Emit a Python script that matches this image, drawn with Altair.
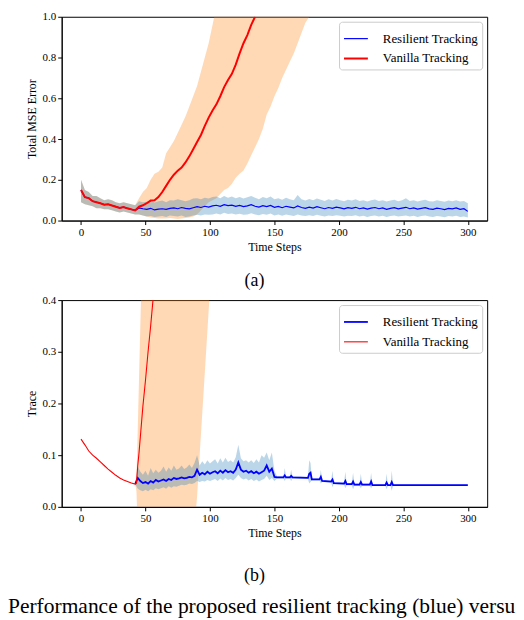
import pandas as pd
import altair as alt

series = ["Resilient Tracking", "Vanilla Tracking"]
x_ticks = [0, 50, 100, 150, 200, 250, 300]
caption = "Performance of the proposed resilient tracking (blue) versu"

# ---- panel (a): total MSE error ----
t_a = list(range(0, 301, 3))
res_a = [0.15, 0.115, 0.11, 0.095, 0.09, 0.085, 0.078, 0.08, 0.074, 0.068, 0.062, 0.066, 0.06, 0.055, 0.05,
         .062, .058, .055, .06, .052, .056, .058, .055, .06, .062,
         .058, .064, .06, .057, .063, .068, .064, .07, .066, .072,
         .075, .07, .078, .073, .076, .07, .074, .068, .072, .078,
         .07, .066, .073, .068, .074, .065, .069, .063, .07, .066,
         .062, .072, .064, .06, .066, .061, .068, .063, .058, .064,
         .06, .066, .062, .057, .063, .06, .065, .058, .062, .056,
         .061, .064, .058, .062, .055, .06, .063, .057, .061, .065,
         .058, .062, .056, .06, .063, .057, .055, .061, .058, .054,
         .06, .057, .062, .055, .058, .045]
res_a_lo = [.09, .08, .075, .07, .06, .06, .055, .055, .05, .045, .04, .045, .04, .035, .03,
            .03, .025, .02, .022, .018, .02, .022, .018, .025, .022,
            .02, .025, .018, .02, .025, .028, .025, .03, .028, .03,
            .035, .03, .038, .032, .035, .03, .033, .028, .03, .036,
            .03, .026, .032, .028, .034, .025, .03, .024, .03, .026,
            .022, .03, .025, .022, .026, .022, .028, .024, .02, .025,
            .022, .026, .023, .02, .024, .022, .026, .02, .024, .018,
            .022, .025, .02, .024, .018, .022, .025, .02, .022, .025,
            .02, .024, .018, .022, .025, .02, .018, .022, .02, .016,
            .022, .02, .024, .018, .02, .015]
res_a_hi = [.2, .15, .14, .12, .12, .11, .1, .105, .1, .09, .085, .09, .085, .08, .075,
            .095, .09, .092, .1, .088, .095, .098, .09, .1, .098,
            .105, .1, .095, .1, .108, .11, .104, .112, .108, .115,
            .118, .11, .12, .112, .118, .11, .116, .108, .114, .12,
            .112, .105, .115, .11, .118, .105, .11, .102, .112, .105,
            .1, .125, .104, .098, .106, .1, .108, .102, .096, .104,
            .098, .106, .1, .095, .102, .098, .104, .096, .1, .094,
            .1, .103, .096, .1, .093, .098, .102, .095, .1, .11,
            .096, .1, .094, .098, .102, .095, .093, .1, .096, .092,
            .098, .095, .1, .093, .096, .085]

t_van_a = list(range(0, 136, 3))
van_a = [0.15, 0.115, 0.11, 0.095, 0.09, 0.085, 0.078, 0.08, 0.074, 0.068, 0.062, 0.066, 0.06, 0.055, 0.05,
         0.068, 0.075, 0.085, 0.098, 0.1, 0.115, 0.14, 0.17, 0.2, 0.225, 0.245, 0.26, 0.285, 0.315, 0.35,
         0.385, 0.42, 0.465, 0.505, 0.54, 0.57, 0.61, 0.655, 0.69, 0.72, 0.765, 0.82, 0.87, 0.91, 0.96, 1.0]
t_van_band_a = list(range(0, 181, 3))
van_a_lo = [.09, .08, .075, .07, .06, .06, .055, .055, .05, .045, .04, .045, .04, .035, .03,
            .03, .025, .02, .015, .012, .01, .01, .01, .012, .01,
            .008, .01, .012, .015, .02, .03, .05, .07, .09, .1,
            .11, .13, .15, .16, .18, .21, .23, .245, .28, .32,
            .36, .4, .45, .52, .56, .61, .65, .7, .74, .78,
            .82, .87, .92, .97, 1.0, 1.05]
van_a_hi = [.2, .15, .14, .12, .12, .11, .1, .105, .1, .09, .085, .09, .085, .08, .075,
            .11, .14, .16, .2, .23, .24, .26, .33, .36, .39,
            .43, .47, .51, .56, .61, .66, .73, .8, .87, .96,
            1.05, 1.1, 1.15, 1.2, 1.25, 1.3, 1.35, 1.4, 1.45, 1.5,
            1.55, 1.6, 1.65, 1.7, 1.75, 1.8, 1.85, 1.9, 1.95, 2.0,
            2.05, 2.1, 2.15, 2.2, 2.25, 2.3]

# ---- panel (b): trace ----
t_van_b = [0, 3, 6, 9, 12, 15, 18, 21, 24, 27, 30, 33, 36, 39, 42, 43, 44, 45, 46, 47, 48, 50, 52, 54, 56, 58]
van_b = [.131, .12, .108, .1, .094, .087, .08, .073, .067, .061, .056, .052, .049, .046, .044,
         .046, .08, .105, .135, .165, .195, .245, .3, .35, .405, .45]
t_van_band_b = [42, 43, 44, 45, 46, 47, 50, 60, 70, 80, 86, 89, 90, 92, 94, 96, 98, 100, 102]
van_b_lo = [.044, .03, -.05, -.1, -.15, -.2, -.3, -.35, -.3, -.2, -.08, -.01, .02, .1, .18, .26, .34, .42, .5]
van_b_hi = [.044, .06, .15, .25, .35, .45, .6, .8, 1.0, 1.2, 1.3, 1.4, 1.4, 1.5, 1.5, 1.6, 1.6, 1.7, 1.8]

t_res_b = list(range(42, 151, 2)) + [152, 157, 158, 159, 162, 163, 164, 176, 177, 178, 179, 185, 186, 187,
                                     194, 195, 196, 204, 205, 206, 210, 211, 212, 216, 217, 218, 224, 225,
                                     226, 236, 237, 238, 240, 241, 242, 300]
res_b = [.044, .056, .05, .046, .048, .045, .05, .047, .052, .049,
         .051, .053, .05, .054, .052, .056, .054, .055, .057, .055,
         .056, .058, .057, .06, .072, .062, .066, .063, .068, .064,
         .067, .069, .065, .07, .066, .071, .067, .069, .066, .072,
         .086, .072, .068, .07, .066, .069, .065, .068, .064, .067,
         .07, .08, .068, .074, .058,
         .057, .057, .061, .057, .057, .06, .057, .056, .064, .066, .053, .053, .058, .05,
         .049, .053, .046, .045, .05, .044, .044, .049, .043, .043, .048, .043, .043, .049,
         .042, .042, .047, .042, .042, .048, .042, .042]
res_b_lo = [.044, .035, .032, .03, .033, .03, .034, .032, .036, .034,
            .036, .038, .035, .04, .037, .04, .039, .041, .043, .042,
            .043, .045, .044, .046, .05, .048, .05, .049, .052, .05,
            .052, .054, .05, .055, .051, .056, .052, .054, .051, .056,
            .062, .056, .053, .055, .051, .054, .05, .053, .049, .052,
            .054, .06, .052, .056, .05,
            .055, .055, .05, .055, .055, .05, .055, .054, .045, .048, .051, .051, .045, .048,
            .047, .038, .044, .043, .036, .042, .042, .034, .041, .041, .036, .041, .041, .036,
            .041, .041, .034, .041, .041, .031, .041, .041]
res_b_hi = [.044, .078, .068, .062, .07, .06, .075, .065, .072, .066,
            .07, .078, .068, .076, .07, .08, .072, .074, .08, .073,
            .076, .082, .075, .085, .1, .08, .088, .082, .09, .084,
            .088, .092, .084, .094, .086, .095, .087, .09, .086, .096,
            .12, .094, .088, .09, .086, .09, .085, .092, .086, .1,
            .095, .105, .09, .105, .07,
            .059, .059, .075, .059, .059, .072, .059, .058, .09, .085, .055, .055, .072, .052,
            .051, .07, .048, .047, .068, .046, .046, .066, .045, .045, .064, .045, .045, .066,
            .043, .043, .064, .043, .043, .07, .043, .043]


def line_frame(t, v, name):
    return pd.DataFrame([{"t": a, "v": b, "series": name} for a, b in zip(t, v)])


def band_frame(t, lo, hi):
    return pd.DataFrame([{"t": a, "lo": b, "hi": c} for a, b, c in zip(t, lo, hi)])


x_enc = alt.X("t:Q", scale=alt.Scale(domain=[-15, 315], nice=False, zero=False),
              axis=alt.Axis(values=x_ticks, format="d", title="Time Steps"))


def panel(res_line, van_line, res_band, van_band, y_dom, y_ticks, y_title, widths, tag, tag_offset, h):
    def y(f):
        return alt.Y(f"{f}:Q", scale=alt.Scale(domain=y_dom, nice=False, zero=False),
                     axis=alt.Axis(values=y_ticks, format=".1f", title=y_title))

    color = alt.Color("series:N", scale=alt.Scale(domain=series, range=["blue", "red"]),
                      legend=alt.Legend(title=None))
    sw = alt.StrokeWidth("series:N", scale=alt.Scale(domain=series, range=widths),
                         legend=alt.Legend(title=None))
    vb = alt.Chart(van_band).mark_area(color="#ff7f0e", opacity=0.3, clip=True).encode(
        x=x_enc, y=y("lo"), y2="hi:Q")
    rb = alt.Chart(res_band).mark_area(color="#1f77b4", opacity=0.3, clip=True).encode(
        x=x_enc, y=y("lo"), y2="hi:Q")
    rl = alt.Chart(res_line).mark_line(clip=True).encode(x=x_enc, y=y("v"), color=color, strokeWidth=sw)
    vl = alt.Chart(van_line).mark_line(clip=True).encode(x=x_enc, y=y("v"), color=color, strokeWidth=sw)
    return alt.layer(vb, rb, rl, vl).properties(
        width=428, height=h,
        title=alt.TitleParams(tag, orient="bottom", fontSize=18, font="Liberation Serif",
                              fontWeight="normal", offset=tag_offset, dx=-20))


pa = panel(line_frame(t_a, res_a, series[0]), line_frame(t_van_a, van_a, series[1]),
           band_frame(t_a, res_a_lo, res_a_hi), band_frame(t_van_band_a, van_a_lo, van_a_hi),
           [0, 1.0], [0.0, 0.2, 0.4, 0.6, 0.8, 1.0], "Total MSE Error", [1.2, 2.0], "(a)", 20, 205)
pb = panel(line_frame(t_res_b, res_b, series[0]), line_frame(t_van_b, van_b, series[1]),
           band_frame(t_res_b, res_b_lo, res_b_hi), band_frame(t_van_band_b, van_b_lo, van_b_hi),
           [0, 0.4], [0.0, 0.1, 0.2, 0.3, 0.4], "Trace", [1.8, 1.1], "(b)", 29, 208)

cap = alt.Chart(pd.DataFrame({"label": [caption]})).mark_text(
    align="left", baseline="alphabetic", font="Liberation Serif", fontSize=21.6, color="black"
).encode(x=alt.value(-54), y=alt.value(25), text="label:N").properties(
    width=428, height=28, view=alt.ViewBackground(strokeOpacity=0))

chart = (
    alt.vconcat(pa, pb, cap, spacing=2)
    .resolve_scale(color="independent", strokeWidth="independent")
    .resolve_legend(color="independent", strokeWidth="independent")
    .properties(padding=0)
    .configure_view(stroke="black", strokeWidth=1)
    .configure_axis(labelFont="Liberation Serif", titleFont="Liberation Serif", labelFontSize=11,
                    titleFontSize=12, titleFontWeight="normal", labelColor="black", titleColor="black",
                    domainColor="black", tickColor="black", grid=False, tickSize=4, labelPadding=2,
                    titlePadding=4, labelFlush=False)
    .configure_legend(orient="top-right", offset=5, labelFont="Liberation Serif", labelFontSize=13,
                      labelColor="black", symbolType="stroke", symbolSize=576, fillColor="white",
                      strokeColor="#cccccc", padding=4, cornerRadius=3, rowPadding=-6, labelOffset=14)
)

chart.save("out.html", embed_options={"renderer": "svg", "actions": False})
